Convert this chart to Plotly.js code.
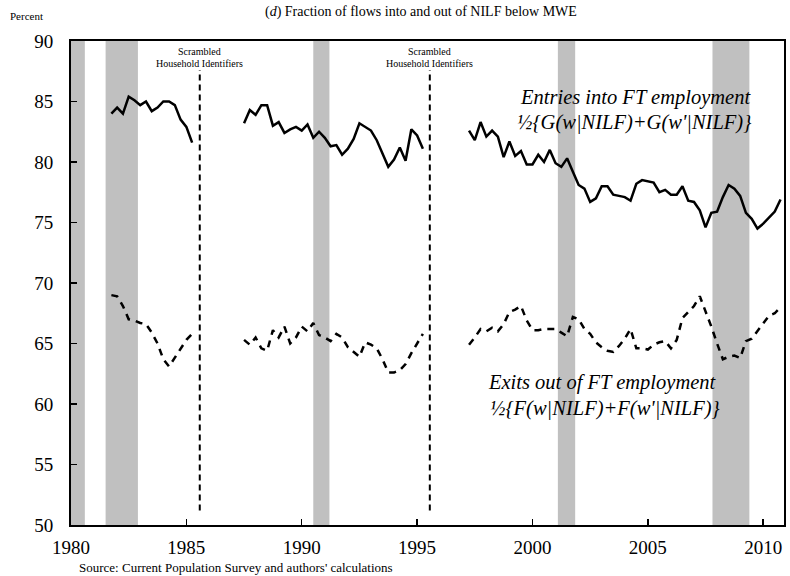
<!DOCTYPE html>
<html>
<head>
<meta charset="utf-8">
<script src="https://cdn.plot.ly/plotly-3.0.1.min.js"></script>
<style>html,body{margin:0;padding:0;background:#fff;}#chart{width:790px;height:576px;}</style>
</head>
<body>
<div id="chart"></div>
<script>
// Segment start years (quarterly observations)
const segStarts = [1981.75, 1987.5, 1997.25];

// Entries into FT employment: 1/2{G(w|NILF)+G(w'|NILF)}
const entries1 = [84.0, 84.5, 84.0, 85.4, 85.1, 84.7, 85.0, 84.2, 84.5, 85.0, 85.0, 84.7, 83.5, 82.9, 81.6];
const entries2 = [83.2, 84.3, 83.9, 84.7, 84.7, 83.0, 83.3, 82.4, 82.7, 82.9, 82.6, 83.1, 82.0, 82.5, 82.0, 81.3,
                  81.4, 80.6, 81.1, 81.9, 83.2, 82.9, 82.6, 81.8, 80.7, 79.6, 80.2, 81.2, 80.1, 82.7, 82.2, 81.1];
const entries3 = [82.6, 81.8, 83.3, 82.1, 82.6, 82.1, 80.4, 81.7, 80.5, 80.9, 79.8, 79.8, 80.6, 80.0, 81.0, 79.9,
                  79.6, 80.3, 79.2, 78.1, 77.8, 76.7, 77.0, 78.0, 78.0, 77.3, 77.2, 77.1, 76.8, 78.2, 78.5, 78.4,
                  78.3, 77.5, 77.7, 77.3, 77.3, 78.0, 76.8, 76.7, 76.0, 74.6, 75.8, 75.9, 77.1, 78.1, 77.8, 77.2,
                  75.8, 75.3, 74.5, 74.9, 75.4, 75.9, 76.9];

// Exits out of FT employment: 1/2{F(w|NILF)+F(w'|NILF)}
const exits1 = [69.0, 68.9, 68.1, 67.0, 66.9, 66.7, 66.6, 65.9, 65.0, 63.7, 63.1, 63.8, 64.5, 65.3, 65.8];
const exits2 = [65.3, 64.9, 65.5, 64.6, 64.4, 66.1, 65.5, 66.4, 65.0, 65.5, 66.4, 66.0, 66.7, 65.7, 65.5, 65.2,
                65.8, 65.5, 64.7, 64.3, 63.9, 65.1, 64.9, 64.6, 63.7, 62.6, 62.6, 62.8, 63.3, 64.2, 65.0, 65.8];
const exits3 = [64.9, 65.5, 66.2, 66.0, 66.3, 66.0, 66.6, 67.6, 67.8, 68.1, 66.9, 66.1, 66.1, 66.2, 66.2, 66.2,
                65.9, 65.6, 67.2, 67.0, 66.2, 65.8, 65.1, 64.7, 64.4, 64.3, 64.8, 65.4, 66.2, 64.6, 64.6, 64.5,
                64.9, 65.1, 65.2, 64.6, 65.3, 67.1, 67.6, 68.1, 68.9, 67.7, 66.4, 65.0, 63.7, 63.9, 64.0, 63.8,
                65.2, 65.4, 66.0, 66.7, 67.3, 67.5, 68.0];

// Recession periods (shaded)
const recStart = [1980.0, 1981.5, 1990.5, 2001.1, 2007.8];
const recEnd   = [1980.6, 1982.9, 1991.2, 2001.85, 2009.4];

// Breaks: scrambled household identifiers
const breakYears = [1985.58, 1995.55];

// Axis ticks
const xTicks = [1980, 1985, 1990, 1995, 2000, 2005, 2010];
const yTicks = [50, 55, 60, 65, 70, 75, 80, 85, 90];

function quarters(start, n) { const a = []; for (let i = 0; i < n; i++) a.push(start + i * 0.25); return a; }

const F = 'Liberation Serif, Times New Roman, serif';
const traces = [];
[entries1, entries2, entries3].forEach((v, i) => traces.push({
  x: quarters(segStarts[i], v.length), y: v, type: 'scatter', mode: 'lines',
  line: {color: '#000', width: 2.5}, showlegend: false, hoverinfo: 'skip'
}));
[exits1, exits2, exits3].forEach((v, i) => traces.push({
  x: quarters(segStarts[i], v.length), y: v, type: 'scatter', mode: 'lines',
  line: {color: '#000', width: 2.5, dash: '7px,6px'}, showlegend: false, hoverinfo: 'skip'
}));
// break lines drawn as traces through the axes
breakYears.forEach(b => traces.push({
  x: [b, b], y: [51.2, 87.6], type: 'scatter', mode: 'lines',
  line: {color: '#000', width: 2, dash: '6px,4px'}, showlegend: false, hoverinfo: 'skip'
}));

const shapes = recStart.map((s, i) => ({
  type: 'rect', xref: 'x', yref: 'paper', x0: s, x1: recEnd[i], y0: 0, y1: 1,
  fillcolor: '#c0c0c0', line: {width: 0}, layer: 'below'
}));

const annotations = [
  {xref: 'paper', yref: 'paper', x: 0.491, y: 1, yshift: 29, xanchor: 'center', yanchor: 'middle', showarrow: false,
   text: '(<i>d</i>) Fraction of flows into and out of NILF below MWE', font: {family: F, size: 14, color: '#000'}},
  {xref: 'paper', yref: 'paper', x: 0, xshift: -63, y: 1, yshift: 25, xanchor: 'left', yanchor: 'middle', showarrow: false,
   text: 'Percent', font: {family: F, size: 11, color: '#000'}},
  {xref: 'paper', yref: 'paper', x: 0, xshift: 6, y: 0, yshift: -42, xanchor: 'left', yanchor: 'middle', showarrow: false,
   text: "Source: Current Population Survey and authors' calculations", font: {family: F, size: 13, color: '#000'}},
  {xref: 'x', yref: 'y', x: 2004.46, y: 85.37, xanchor: 'center', yanchor: 'middle', showarrow: false,
   text: '<i>Entries into FT employment</i>', font: {family: F, size: 20.5, color: '#000'}},
  {xref: 'x', yref: 'y', x: 2004.42, y: 83.3, xanchor: 'center', yanchor: 'middle', showarrow: false,
   text: "<i>½{G(w|NILF)+G(w'|NILF)}</i>", font: {family: F, size: 20.5, color: '#000'}},
  {xref: 'x', yref: 'y', x: 2003.03, y: 61.74, xanchor: 'center', yanchor: 'middle', showarrow: false,
   text: '<i>Exits out of FT employment</i>', font: {family: F, size: 20.5, color: '#000'}},
  {xref: 'x', yref: 'y', x: 2003.16, y: 59.6, xanchor: 'center', yanchor: 'middle', showarrow: false,
   text: "<i>½{F(w|NILF)+F(w'|NILF)}</i>", font: {family: F, size: 20.5, color: '#000'}}
];
breakYears.forEach(b => {
  annotations.push({xref: 'x', yref: 'y', x: b, y: 89.1, xanchor: 'center', yanchor: 'middle', showarrow: false,
    text: 'Scrambled', font: {family: F, size: 10, color: '#000'}});
  annotations.push({xref: 'x', yref: 'y', x: b, y: 88.1, xanchor: 'center', yanchor: 'middle', showarrow: false,
    text: 'Household Identifiers', font: {family: F, size: 10, color: '#000'}});
});

const layout = {
  width: 790, height: 576,
  margin: {l: 71, r: 6, t: 41, b: 51, pad: 0},
  paper_bgcolor: '#fff', plot_bgcolor: '#fff',
  showlegend: false,
  xaxis: {range: [1980, 2010.9], tickvals: xTicks, ticktext: xTicks.map(String), ticks: 'inside', ticklen: 6,
          tickwidth: 1.5, tickcolor: '#000', showgrid: false, zeroline: false, showline: true, linecolor: '#000',
          linewidth: 2, mirror: true, tickfont: {family: F, size: 19, color: '#000'}, ticklabelstandoff: 4},
  yaxis: {range: [50, 90], tickvals: yTicks, ticktext: yTicks.map(String), ticks: 'inside', ticklen: 6,
          tickwidth: 1.5, tickcolor: '#000', showgrid: false, zeroline: false, showline: true, linecolor: '#000',
          linewidth: 2, mirror: true, tickfont: {family: F, size: 19, color: '#000'}, ticklabelstandoff: 12},
  shapes: shapes,
  annotations: annotations,
  font: {family: F, color: '#000'}
};

Plotly.newPlot('chart', traces, layout, {staticPlot: true, displayModeBar: false});
</script>
</body>
</html>
